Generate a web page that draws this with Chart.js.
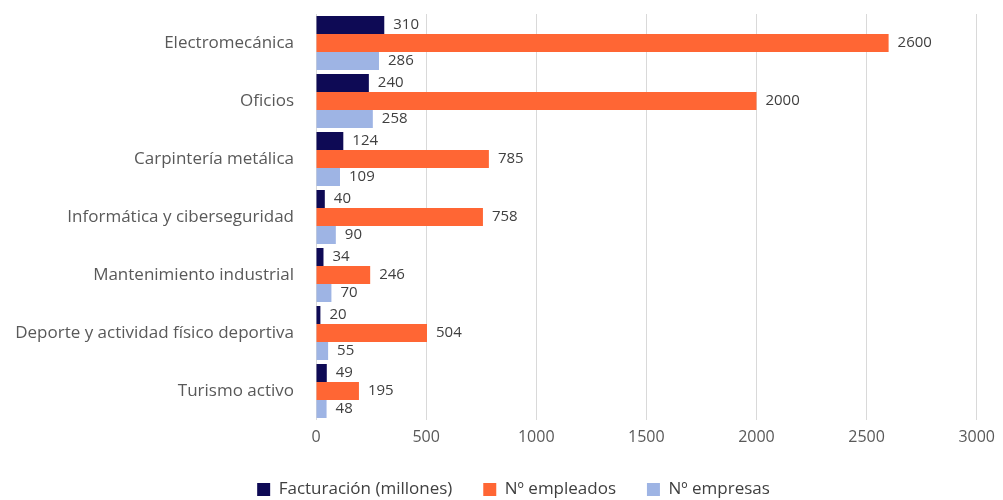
<!DOCTYPE html>
<html lang="es">
<head>
<meta charset="utf-8">
<title>Sectores</title>
<script src="https://cdn.jsdelivr.net/npm/chart.js@4"></script>
<style>
    html, body { margin: 0; padding: 0; background: #fff; }
    #wrap { width: 1003px; height: 500px; position: relative; }
</style>
</head>
<body>
<div id="wrap"><canvas id="sectores"></canvas></div>
<script>
    // Datos
    var categorias = ["Electromecánica", "Oficios", "Carpintería metálica", "Informática y ciberseguridad",
        "Mantenimiento industrial", "Deporte y actividad físico deportiva", "Turismo activo"];
    var facturacion = [310, 240, 124, 40, 34, 20, 49];
    var empleados = [2600, 2000, 785, 758, 246, 504, 195];
    var empresas = [286, 258, 109, 90, 70, 55, 48];
    var ticksX = [0, 500, 1000, 1500, 2000, 2500, 3000];

    // Etiquetas de valor al final de cada barra
    var valueLabels = {
        id: "valueLabels",
        afterDatasetsDraw: function (chart) {
            var ctx = chart.ctx;
            ctx.save();
            ctx.font = "15px 'Open Sans', sans-serif";
            ctx.fillStyle = "#404040";
            ctx.textAlign = "left";
            ctx.textBaseline = "middle";
            chart.data.datasets.forEach(function (ds, i) {
                chart.getDatasetMeta(i).data.forEach(function (bar, j) {
                    ctx.fillText(ds.data[j], bar.x + 9, bar.y);
                });
            });
            ctx.restore();
        }
    };

    // Recoloca la leyenda: un poco más abajo y más a la derecha
    var legendShift = {
        id: "legendShift",
        afterLayout: function (chart) {
            var lg = chart.legend;
            if (lg) {
                lg.top += 8;
                lg.bottom += 8;
                lg.left += 23;
                lg.right += 23;
            }
        }
    };

    var ctx = document.getElementById("sectores").getContext("2d");
    var chart = new Chart(ctx, {
        type: "bar",
        data: {
            labels: categorias,
            datasets: [{
                label: "Facturación (millones)",
                data: facturacion,
                backgroundColor: "#0e0a55"
            },
            {
                label: "Nº empleados",
                data: empleados,
                backgroundColor: "#ff6634"
            },
            {
                label: "Nº empresas",
                data: empresas,
                backgroundColor: "#9eb4e4"
            }]
        },
        options: {
            indexAxis: "y",
            responsive: true,
            maintainAspectRatio: false,
            animation: false,
            categoryPercentage: 0.93,
            barPercentage: 1,
            layout: { padding: { top: 14, right: 22, bottom: 0, left: 0 } },
            plugins: {
                tooltip: { enabled: false },
                legend: {
                    position: "bottom",
                    labels: {
                        boxWidth: 13,
                        boxHeight: 13,
                        padding: 0,
                        color: "#404040",
                        font: { family: "'Open Sans', sans-serif", size: 17 },
                        generateLabels: function (chart) {
                            // espacio horizontal entre elementos de la leyenda
                            var items = Chart.defaults.plugins.legend.labels.generateLabels(chart);
                            items.forEach(function (it, i) {
                                if (i < items.length - 1) it.text = it.text + "       ";
                            });
                            return items;
                        }
                    }
                }
            },
            scales: {
                x: {
                    min: 0,
                    max: 3000,
                    afterBuildTicks: function (scale) {
                        scale.ticks = ticksX.map(function (v) { return { value: v }; });
                    },
                    afterFit: function (scale) { scale.height = 53; },
                    grid: { color: "#d9d9d9", lineWidth: 1, drawTicks: false },
                    border: { display: false },
                    ticks: {
                        padding: 8,
                        color: "#595959",
                        font: { family: "'Open Sans', sans-serif", size: 16 },
                        callback: function (v) { return String(v); }
                    }
                },
                y: {
                    afterFit: function (scale) {
                        scale.width = 316;
                        scale.paddingTop = 0;
                        scale.paddingBottom = 0;
                    },
                    grid: { display: false, drawTicks: false },
                    border: { display: false },
                    ticks: {
                        padding: 22,
                        color: "#595959",
                        font: { family: "'Open Sans', sans-serif", size: 17 }
                    }
                }
            }
        },
        plugins: [valueLabels, legendShift]
    });
</script>
</body>
</html>
